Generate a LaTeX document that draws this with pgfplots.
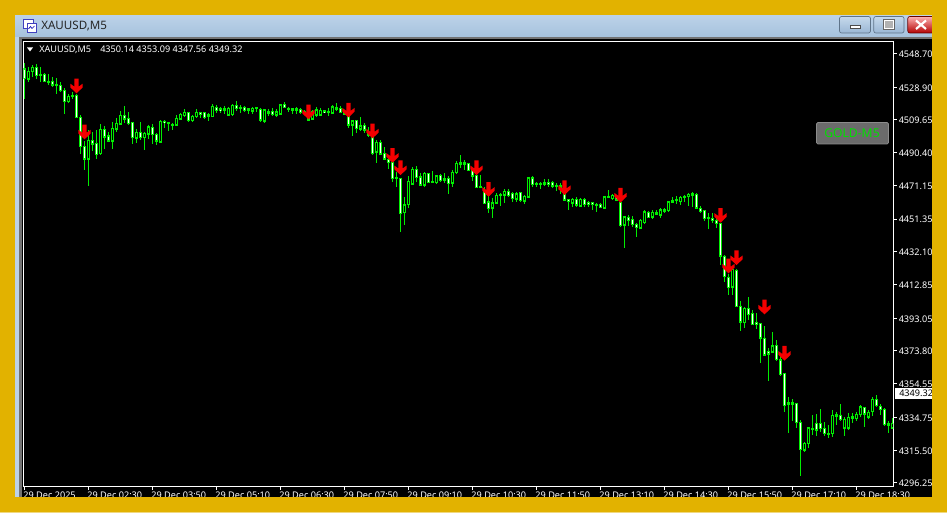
\documentclass[border=0pt]{standalone}
\usepackage{fontspec}
\setmainfont{Noto Sans}
\usepackage{pgfplots}
\usepackage{pgfplotstable}
\pgfplotsset{compat=1.18}
\definecolor{gold}{HTML}{E2B200}
\definecolor{candle}{RGB}{0,238,0}
\definecolor{sigred}{RGB}{245,0,0}
\definecolor{bartop}{HTML}{BCD2E8}
\definecolor{barbot}{HTML}{A6C2DD}
\definecolor{btntop}{HTML}{C6D9EC}
\definecolor{btnbot}{HTML}{9AB7D4}
\definecolor{btnline}{HTML}{5F7489}
\newcommand{\tickfont}{\fontsize{6.85pt}{8pt}\selectfont}

% i open high low close, M5 bars
\pgfplotstableread{
i o h l c
0 4539.6 4542.9 4521.9 4534.1
1 4533.7 4541.0 4531.7 4538.4
2 4538.0 4541.9 4535.1 4540.6
3 4540.6 4542.3 4533.7 4535.6
4 4536.4 4540.6 4531.7 4535.6
5 4536.4 4537.0 4531.7 4532.1
6 4532.5 4536.4 4530.2 4531.7
7 4532.5 4535.1 4529.2 4530.2
8 4530.7 4534.1 4524.9 4530.0
9 4530.0 4531.7 4525.8 4526.8
10 4527.2 4528.2 4513.1 4520.4
11 4520.4 4524.7 4519.4 4523.7
12 4523.3 4526.2 4521.9 4524.3
13 4524.3 4524.7 4510.8 4511.0
14 4511.3 4512.5 4489.4 4493.9
15 4493.9 4497.2 4480.2 4486.6
16 4486.6 4503.7 4471.0 4497.8
17 4497.6 4502.3 4491.4 4495.5
18 4495.9 4503.7 4486.6 4489.4
19 4489.8 4507.0 4489.0 4504.1
20 4504.1 4506.2 4492.5 4499.6
21 4500.2 4502.3 4496.8 4497.2
22 4497.2 4508.2 4492.5 4504.7
23 4504.3 4510.6 4502.3 4507.6
24 4507.2 4514.9 4507.0 4512.5
25 4512.3 4517.8 4507.6 4510.2
26 4510.6 4514.1 4506.6 4507.6
27 4508.2 4508.6 4495.5 4499.2
28 4498.8 4504.3 4495.9 4502.3
29 4502.3 4508.2 4497.8 4499.2
30 4499.2 4502.3 4491.9 4501.9
31 4501.3 4506.6 4498.4 4505.5
32 4505.3 4507.0 4495.3 4500.8
33 4501.2 4501.7 4494.9 4497.2
34 4496.4 4509.4 4495.9 4509.0
35 4509.0 4509.6 4505.1 4508.0
36 4508.2 4508.6 4503.1 4507.4
37 4507.2 4507.6 4503.7 4506.5
38 4506.6 4512.5 4506.0 4510.6
39 4510.0 4513.9 4509.6 4512.9
40 4512.1 4515.8 4511.2 4514.1
41 4513.9 4514.5 4508.6 4509.2
42 4509.2 4512.5 4509.0 4511.8
43 4511.6 4515.8 4511.2 4514.3
44 4513.9 4514.5 4510.6 4512.9
45 4513.9 4514.5 4510.0 4511.2
46 4512.7 4513.5 4509.2 4511.9
47 4511.6 4519.0 4511.6 4517.8
48 4517.0 4518.4 4513.9 4515.1
49 4516.1 4517.0 4513.5 4515.1
50 4515.5 4518.0 4513.1 4516.5
51 4512.5 4517.4 4511.9 4516.5
52 4512.7 4519.0 4512.5 4518.2
53 4518.2 4520.8 4515.1 4516.2
54 4517.0 4518.2 4513.9 4516.2
55 4517.0 4517.8 4514.5 4515.3
56 4516.1 4516.8 4513.1 4515.5
57 4514.9 4517.4 4513.1 4516.6
58 4516.1 4517.4 4514.3 4516.8
59 4515.9 4516.5 4508.4 4509.6
60 4508.8 4516.3 4507.6 4515.5
61 4514.5 4515.9 4511.9 4513.7
62 4514.7 4516.5 4511.9 4512.7
63 4512.3 4515.9 4511.2 4514.5
64 4513.1 4519.0 4512.5 4518.6
65 4518.8 4520.4 4516.5 4517.0
66 4516.6 4517.4 4514.5 4515.9
67 4516.1 4516.5 4512.9 4515.3
68 4516.1 4517.0 4513.1 4515.5
69 4515.9 4516.5 4513.1 4513.9
70 4514.7 4515.5 4512.5 4513.9
71 4512.5 4513.5 4509.6 4509.6
72 4510.0 4515.5 4509.6 4514.5
73 4512.3 4517.0 4511.6 4515.5
74 4512.5 4516.4 4511.9 4515.4
75 4515.0 4515.4 4513.5 4514.1
76 4514.5 4516.4 4511.9 4513.9
77 4513.5 4518.4 4513.1 4517.4
78 4516.8 4519.4 4515.0 4516.0
79 4516.4 4517.8 4513.5 4514.1
80 4513.9 4515.4 4512.5 4513.1
81 4511.5 4511.9 4504.7 4506.6
82 4506.6 4509.6 4500.2 4509.2
83 4509.2 4509.6 4501.7 4504.5
84 4504.1 4511.1 4503.3 4506.2
85 4506.6 4507.6 4501.7 4503.7
86 4502.1 4505.6 4499.8 4500.7
87 4499.2 4499.4 4489.0 4490.0
88 4490.5 4497.8 4484.1 4496.4
89 4496.4 4497.8 4489.0 4489.6
90 4490.0 4493.5 4486.0 4486.6
91 4486.6 4489.0 4480.6 4484.5
92 4484.5 4485.1 4473.3 4475.3
93 4475.8 4479.2 4470.4 4475.1
94 4475.3 4475.3 4443.5 4454.7
95 4455.1 4464.1 4447.8 4459.8
96 4459.8 4476.6 4457.6 4473.5
97 4471.9 4482.1 4471.3 4480.6
98 4480.6 4482.5 4473.3 4475.8
99 4476.2 4478.2 4470.8 4471.3
100 4471.3 4479.2 4470.0 4478.2
101 4478.2 4478.6 4472.3 4472.7
102 4473.3 4479.6 4472.3 4472.7
103 4472.7 4477.2 4472.3 4476.8
104 4477.0 4477.8 4473.3 4473.9
105 4475.1 4478.6 4472.3 4474.3
106 4475.1 4476.6 4466.0 4472.3
107 4472.3 4480.2 4470.0 4479.0
108 4478.6 4485.6 4478.2 4484.1
109 4484.5 4489.0 4481.1 4483.7
110 4484.5 4486.0 4480.2 4483.7
111 4484.1 4484.5 4479.8 4479.8
112 4479.8 4480.2 4473.9 4476.6
113 4477.2 4477.2 4469.4 4470.0
114 4470.6 4477.2 4469.4 4470.0
115 4467.8 4470.4 4460.6 4460.6
116 4461.5 4464.9 4455.1 4457.6
117 4457.6 4463.5 4451.7 4461.0
118 4460.6 4466.4 4460.2 4465.5
119 4466.0 4466.8 4459.0 4465.3
120 4465.3 4468.8 4461.0 4467.6
121 4467.6 4469.0 4464.5 4465.3
122 4466.4 4467.4 4461.5 4463.5
123 4462.9 4467.4 4461.5 4466.4
124 4466.8 4467.4 4461.5 4462.1
125 4461.7 4465.5 4460.0 4464.7
126 4464.3 4475.8 4464.1 4475.8
127 4475.6 4476.6 4470.4 4471.5
128 4472.5 4473.3 4470.0 4471.7
129 4472.5 4472.9 4468.8 4471.7
130 4472.7 4474.7 4470.8 4471.9
131 4472.9 4474.7 4470.4 4471.9
132 4473.1 4473.9 4469.4 4470.8
133 4471.3 4472.7 4468.0 4470.6
134 4470.8 4472.7 4466.0 4469.2
135 4466.0 4466.0 4462.1 4462.5
136 4462.7 4462.9 4456.6 4461.7
137 4460.6 4463.7 4458.6 4462.9
138 4462.9 4464.1 4458.6 4459.6
139 4459.0 4463.9 4458.6 4462.9
140 4462.9 4463.7 4458.2 4460.0
141 4461.1 4461.9 4458.6 4460.2
142 4461.0 4461.1 4456.6 4460.0
143 4460.0 4461.0 4455.7 4459.4
144 4460.0 4460.6 4457.6 4458.2
145 4457.6 4465.1 4457.4 4464.5
146 4464.7 4468.4 4463.5 4463.9
147 4463.3 4466.0 4462.5 4465.3
148 4464.1 4464.9 4462.1 4462.5
149 4461.1 4462.1 4446.8 4447.4
150 4447.6 4453.1 4434.1 4452.7
151 4452.5 4453.7 4447.2 4450.4
152 4451.2 4453.1 4446.4 4448.2
153 4448.4 4449.2 4441.0 4446.4
154 4445.9 4451.2 4445.3 4450.8
155 4449.2 4456.7 4448.8 4455.7
156 4455.5 4456.3 4451.8 4452.3
157 4452.3 4456.7 4451.2 4455.3
158 4455.1 4456.7 4453.7 4454.3
159 4453.5 4457.6 4451.8 4456.7
160 4456.9 4457.6 4454.7 4456.1
161 4456.3 4462.1 4455.7 4461.6
162 4461.2 4464.5 4460.6 4462.1
163 4462.0 4464.9 4460.2 4462.9
164 4461.6 4464.9 4459.6 4464.1
165 4464.1 4465.3 4461.6 4464.9
166 4464.5 4466.5 4459.0 4465.9
167 4465.3 4467.2 4458.6 4466.1
168 4465.7 4466.9 4457.1 4457.8
169 4457.8 4459.0 4455.1 4455.9
170 4456.3 4456.7 4450.4 4451.6
171 4451.6 4454.7 4445.3 4452.4
172 4451.8 4455.1 4448.8 4450.8
173 4450.8 4453.7 4445.9 4448.8
174 4448.8 4449.2 4424.3 4429.6
175 4429.6 4430.2 4414.5 4417.5
176 4417.1 4419.0 4406.7 4411.2
177 4411.2 4421.8 4406.7 4421.8
178 4421.4 4421.8 4399.4 4399.8
179 4400.2 4403.3 4385.7 4390.8
180 4390.4 4399.8 4387.1 4398.8
181 4398.6 4405.7 4392.0 4395.3
182 4395.9 4397.9 4389.0 4389.4
183 4390.4 4396.3 4386.5 4389.4
184 4389.8 4390.0 4366.5 4381.4
185 4381.4 4388.6 4370.8 4371.4
186 4373.4 4375.3 4356.3 4372.0
187 4373.0 4385.1 4372.4 4376.9
188 4376.9 4380.2 4368.1 4368.5
189 4368.5 4372.4 4359.0 4359.8
190 4360.6 4360.6 4338.1 4341.6
191 4343.4 4346.5 4325.7 4342.6
192 4343.4 4345.3 4332.8 4342.6
193 4343.0 4343.4 4328.3 4331.6
194 4331.8 4333.2 4300.4 4315.9
195 4315.5 4320.4 4314.6 4319.5
196 4319.1 4329.3 4316.5 4328.7
197 4327.5 4336.1 4324.4 4328.3
198 4331.2 4336.7 4323.8 4327.3
199 4331.2 4339.6 4326.3 4328.3
200 4328.3 4332.2 4323.8 4325.3
201 4325.3 4330.2 4322.4 4324.6
202 4325.0 4339.1 4323.0 4336.1
203 4336.3 4337.9 4330.2 4335.5
204 4336.1 4342.6 4332.8 4333.6
205 4328.3 4335.1 4324.0 4333.6
206 4328.3 4337.5 4327.3 4334.7
207 4334.2 4337.1 4331.6 4335.0
208 4334.0 4338.1 4332.8 4336.5
209 4336.3 4342.0 4334.7 4341.0
210 4340.6 4341.0 4328.9 4336.7
211 4334.7 4339.1 4333.6 4337.7
212 4338.1 4346.5 4335.5 4345.5
213 4345.3 4347.9 4341.0 4341.6
214 4341.4 4342.6 4336.1 4339.1
215 4339.6 4340.0 4329.9 4330.6
216 4331.0 4332.8 4325.3 4330.2
217 4328.3 4334.2 4327.7 4331.2
}\candles

% sell signal arrows, tip at the given price
\pgfplotstableread{
i p
13 4525.3
15 4498.2
71 4510.0
81 4511.1
87 4498.8
92 4484.5
94 4477.2
113 4477.2
116 4464.5
135 4465.5
149 4461.1
174 4449.2
176 4419.4
178 4424.3
185 4395.3
190 4368.1
}\signals

\pgfdeclareplotmark{sigarrow}{%
  \pgfpathmoveto{\pgfqpoint{0pt}{0pt}}%
  \pgfpathlineto{\pgfqpoint{4.6pt}{4.4pt}}%
  \pgfpathlineto{\pgfqpoint{4.6pt}{7.2pt}}%
  \pgfpathlineto{\pgfqpoint{1.6pt}{5pt}}%
  \pgfpathlineto{\pgfqpoint{1.6pt}{11pt}}%
  \pgfpathlineto{\pgfqpoint{-1.6pt}{11pt}}%
  \pgfpathlineto{\pgfqpoint{-1.6pt}{5pt}}%
  \pgfpathlineto{\pgfqpoint{-4.6pt}{7.2pt}}%
  \pgfpathlineto{\pgfqpoint{-4.6pt}{4.4pt}}%
  \pgfpathclose\pgfusepathqfill}

\tikzset{px/.style={x=0.75pt,y=-0.75pt,yshift=384.75pt}}

\begin{document}
\begin{tikzpicture}
\path[use as bounding box] (0,0) rectangle (710.25pt,384.75pt);

% window behind the chart
\begin{scope}[px]
\fill[gold] (0,0) rectangle (947,513);
\fill[black] (22,39) rectangle (932,497);
\shade[top color=bartop,bottom color=barbot] (15,15) rectangle (932,37.5);
\fill[bartop] (15,37) rectangle (19.3,497);
\fill[black!55] (19.3,37.3) rectangle (22,497);
\fill[black!55] (19.3,37.3) rectangle (932,39.3);
\end{scope}

\begin{axis}[
  at={(17.475pt,19.875pt)}, anchor=south west,
  scale only axis, width=652.5pt, height=333.9pt,
  xmin=-0.3, xmax=217.2, ymin=4294.1, ymax=4555.9,
  axis line style={white,line width=0.75pt},
  tick style={white,line width=0.75pt},
  tick align=outside, major tick length=2.4pt,
  xtick pos=bottom, ytick pos=right,
  xticklabel pos=bottom, yticklabel pos=right,
  xtick={0,16,...,208},
  xticklabels={29 Dec 2025,29 Dec 02:30,29 Dec 03:50,29 Dec 05:10,29 Dec 06:30,29 Dec 07:50,29 Dec 09:10,29 Dec 10:30,29 Dec 11:50,29 Dec 13:10,29 Dec 14:30,29 Dec 15:50,29 Dec 17:10,29 Dec 18:30},
  ytick={4296.25,4315.50,4334.75,4354.55,4373.80,4393.05,4412.85,4432.10,4451.35,4471.15,4490.40,4509.65,4528.90,4548.70},
  scaled y ticks=false,
  /pgf/number format/fixed,/pgf/number format/fixed zerofill,/pgf/number format/precision=2,
  /pgf/number format/1000 sep={},/pgf/number format/assume math mode=true,
  y tick label style={font=\tickfont,text=white,anchor=west,inner xsep=0pt,xshift=1.5pt,yshift=-0.5pt},
  x tick label style={font=\tickfont,text=white,anchor=north west,inner sep=0pt,xshift=-1pt,yshift=-1.4pt},
  axis background/.style={fill=black},
  error bars/error mark=none,
]
% wicks
\addplot[no marks,draw=none,forget plot,error bars/.cd,y dir=both,y explicit,
  error bar style={candle,line width=0.8pt}]
  table[x=i,y=o,y error plus expr=\thisrow{h}-\thisrow{o},y error minus expr=\thisrow{o}-\thisrow{l}] {\candles};
% body outline
\addplot[no marks,draw=none,forget plot,error bars/.cd,y dir=both,y explicit,
  error bar style={candle,line width=2.25pt}]
  table[x=i,y expr={max(\thisrow{o},\thisrow{c})+0.3},y error plus expr=0,y error minus expr={abs(\thisrow{o}-\thisrow{c})+0.6}] {\candles};
% body fill, white when falling, black when rising
\addplot[no marks,draw=none,forget plot,error bars/.cd,y dir=both,y explicit,
  error bar style={white,line width=1pt}]
  table[x=i,y expr={max(\thisrow{o},\thisrow{c})-0.4},y error plus expr=0,y error minus expr={\thisrow{c}<\thisrow{o}?max(\thisrow{o}-\thisrow{c}-0.8,0):0}] {\candles};
\addplot[no marks,draw=none,forget plot,error bars/.cd,y dir=both,y explicit,
  error bar style={black,line width=0.8pt}]
  table[x=i,y expr={max(\thisrow{o},\thisrow{c})-0.6},y error plus expr=0,y error minus expr={\thisrow{c}<\thisrow{o}?0:max(\thisrow{c}-\thisrow{o}-1.2,0)}] {\candles};
% signals
\addplot[only marks,mark=sigarrow,sigred,forget plot] table[x=i,y=p] {\signals};
\end{axis}

\begin{scope}[px]
% last price tag
\fill[white] (895,388) rectangle (932,399);
\node[anchor=west,inner sep=0pt,font=\tickfont,text=black] at (899,393.6) {4349.32};
% frame over the clipped labels
\fill[gold] (0,0) rectangle (947,15);
\fill[gold] (0,0) rectangle (15,513);
\fill[gold] (932,0) rectangle (947,513);
\fill[gold] (0,497) rectangle (947,513);
\fill[gold!50!white] (0,512) rectangle (947,513);
% title
\node[anchor=west,inner sep=0pt,font=\fontsize{8.7pt}{10pt}\selectfont,text=black!85] at (41,26) {XAUUSD,M5};
\fill[white] (23,19) rectangle (33,28);
\draw[blue!50!gray,line width=0.5pt] (23,19) rectangle (33,28);
\fill[white] (27,23) rectangle (36,32);
\draw[blue!50!gray,line width=0.5pt] (27,23) rectangle (36,32);
\draw[blue!70!black,line width=0.5pt] (28.5,29) -- (30.5,26.5) -- (32,28.5) -- (34.5,26);
% window buttons
\shade[top color=btntop,bottom color=btnbot,draw=btnline,rounded corners=1.5pt,line width=0.5pt] (839.5,16.5) rectangle (870.5,33);
\shade[top color=btntop,bottom color=btnbot,draw=btnline,rounded corners=1.5pt,line width=0.5pt] (873.8,16.5) rectangle (904,33);
\shade[top color=red!30!white,bottom color=red!70!black,draw=red!40!black,rounded corners=1.5pt,line width=0.5pt] (907.8,16.5) rectangle (936,33);
\fill[white,draw=black!70,line width=0.4pt] (850,25) rectangle (860,28);
\draw[white,line width=0.9pt,fill=black!30] (884,20.5) rectangle (893.5,28.5);
\draw[black!60,line width=0.3pt] (883,19.5) rectangle (894.5,29.5);
\draw[white,line width=1.6pt] (916,20.5) -- (926,29) (926,20.5) -- (916,29);
\fill[gold] (932,15) rectangle (947,40);
% chart header
\fill[white] (27,47.5) -- (33,47.5) -- (30,51.5) -- cycle;
\node[anchor=west,inner sep=0pt,font=\tickfont,text=white] at (39,49.5) {XAUUSD,M5};
\node[anchor=west,inner sep=0pt,font=\tickfont,text=white] at (100,49.5) {4350.14 4353.09 4347.56 4349.32};
% label button
\fill[black!58,draw=black!45,line width=0.6pt,rounded corners=1pt] (816.5,122.5) rectangle (888.5,144);
\node[inner sep=0pt,font=\fontsize{9.1pt}{10pt}\selectfont,text={rgb,255:red,0;green,225;blue,0}] at (852,133.3) {GOLD-M5};
\end{scope}
\end{tikzpicture}
\end{document}
